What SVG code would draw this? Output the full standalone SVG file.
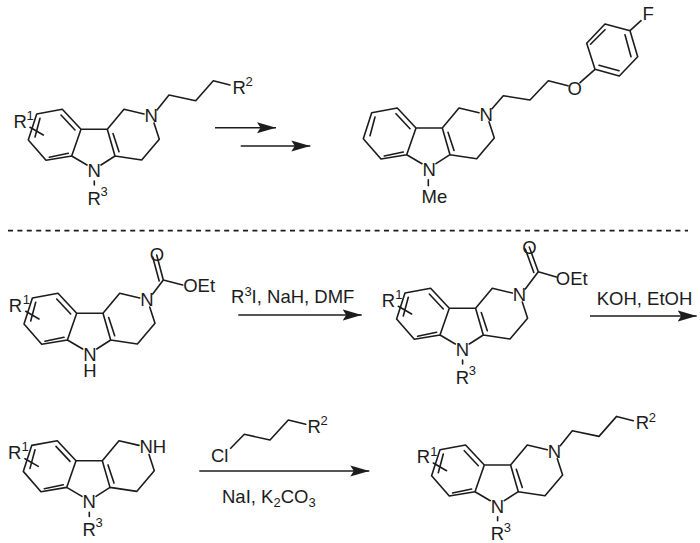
<svg xmlns="http://www.w3.org/2000/svg" width="700" height="543" viewBox="0 0 700 543">
<style>
.b{fill:none;stroke:#1c1c1c;stroke-width:1.6;stroke-linecap:round;stroke-linejoin:round}
.a{fill:none;stroke:#1c1c1c;stroke-width:1.6}
text{font-family:"Liberation Sans",Arial,sans-serif;font-size:18.5px;fill:#1c1c1c}
.s{font-size:13px}
</style>
<defs>
<path id="core" class="b" d="M36.7 114L62.3 109.3L81 129.3L71.7 156L46 160.3L28.3 140ZM61 115L75 130M49.3 157.3L68.3 153.3M35 137L40 118.3M81 129.3H107.3L115 156L141.7 160L159.3 139.3L154 123M107.3 129.3L124 109.3L144 114M113 133.5L119 151.7M71.7 156L87 165M115 156L101 165"/>
<path id="sub" class="b" d="M30 127.3L43.3 135"/>
<path id="chain" class="b" d="M157 110L169 95L195.7 100.7L213.3 80.7L230 85"/>
<marker id="h" markerWidth="20" markerHeight="12" refX="19" refY="6" orient="auto" markerUnits="userSpaceOnUse"><path d="M0 .5L19 6L0 11.5L3.5 6Z" fill="#1c1c1c"/></marker>
</defs>
<g id="mol-1">
<use href="#core"/><use href="#sub"/><use href="#chain"/>
<text x="13.5" y="127.5">R</text><text class="s" x="26.5" y="120">1</text>
<text x="144.5" y="122">N</text><text x="232.5" y="93.5">R</text><text class="s" x="245.5" y="86">2</text>
<text x="87.5" y="177">N</text><path class="b" d="M94.3 181V185"/><text x="87.5" y="204.5">R</text><text class="s" x="100.5" y="196">3</text>
</g>
<g id="mol-2" transform="translate(335 -1.3)">
<use href="#core"/>
<path class="b" d="M157 110L168.3 97L195 101.3L213.3 82L233 87M245 84L260 70.6L284.3 77.3L302.7 58L295 32L270 25.3L251.7 44.6L260 70.6M270 31L255.5 45.5M296 58L290 36M264 66.5L284 72M295 32L306 22"/>
<text x="87.5" y="177">N</text><path class="b" d="M93.3 181V187"/><text x="86.5" y="204.5">Me</text>
<text x="232.5" y="96">O</text><text x="307.5" y="21">F</text><text x="144.5" y="122">N</text>
</g>
<g id="mol-3" transform="translate(-4.3 184)">
<use href="#core"/><use href="#sub"/>
<path class="b" d="M157 110L167.6 96L161 71M163.5 97L157 73M167.6 96L187 101"/>
<text x="13" y="127.5">R</text><text class="s" x="27" y="120">1</text>
<text x="144.5" y="122">N</text><text x="87.5" y="177">N</text><text x="87.5" y="193">H</text>
<text x="154" y="77">O</text><text x="187.5" y="108">OEt</text>
</g>
<g id="mol-4" transform="translate(368.3 179)">
<use href="#core"/><use href="#sub"/>
<path class="b" d="M157 110L170 92.7L161 68M165.5 93.5L157 70M170 92.7L188 98"/>
<text x="13.5" y="127.5">R</text><text class="s" x="27" y="120">1</text>
<text x="144.5" y="122">N</text><text x="87.5" y="177">N</text><path class="b" d="M94.3 181V185"/><text x="87.5" y="204.5">R</text><text class="s" x="100.5" y="196">3</text>
<text x="154" y="75">O</text><text x="187.5" y="106">OEt</text>
</g>
<g id="mol-5" transform="translate(-5 331.4)">
<use href="#core"/><use href="#sub"/>
<text x="13" y="127.5">R</text><text class="s" x="26.5" y="120">1</text>
<text x="144.5" y="122">NH</text><text x="87.5" y="177">N</text><path class="b" d="M94.3 181V185"/><text x="87.5" y="204.5">R</text><text class="s" x="100.5" y="196">3</text>
</g>
<g id="mol-6" transform="translate(403.3 335.7)">
<use href="#core"/><use href="#sub"/><use href="#chain"/>
<text x="13.5" y="127.5">R</text><text class="s" x="27" y="120">1</text>
<text x="144.5" y="122">N</text><text x="232.5" y="93.5">R</text><text class="s" x="245.5" y="86">2</text>
<text x="87.5" y="177">N</text><path class="b" d="M94.3 181V185"/><text x="87.5" y="204.5">R</text><text class="s" x="100.5" y="196">3</text>
</g>
<g id="reagent-chloride">
<path class="b" d="M230.7 448.3L244.3 434.3L270 440L288.3 420L305.7 424.3"/>
<text x="211" y="462">Cl</text><text x="307.5" y="432.5">R</text><text class="s" x="320.5" y="425">2</text>
</g>
<g id="connectors">
<path class="a" marker-end="url(#h)" d="M215 127.7H276"/>
<path class="a" marker-end="url(#h)" d="M240.7 146H310.3"/>
<path class="a" marker-end="url(#h)" d="M238.3 315H361.7"/>
<path class="a" marker-end="url(#h)" d="M590 316H696.7"/>
<path class="a" marker-end="url(#h)" d="M199.3 471H369.3"/>
<path d="M8 230.7H688" fill="none" stroke="#1c1c1c" stroke-width="1.8" stroke-dasharray="5 4.4"/>
</g>
<g id="labels">
<text x="231" y="303">R<tspan class="s" dy="-7">3</tspan><tspan dy="7">I, NaH, DMF</tspan></text>
<text x="596.7" y="305">KOH, EtOH</text>
<text x="222" y="503">NaI, K<tspan class="s" dy="4">2</tspan><tspan dy="-4">CO</tspan><tspan class="s" dy="4">3</tspan></text>
</g>
</svg>
